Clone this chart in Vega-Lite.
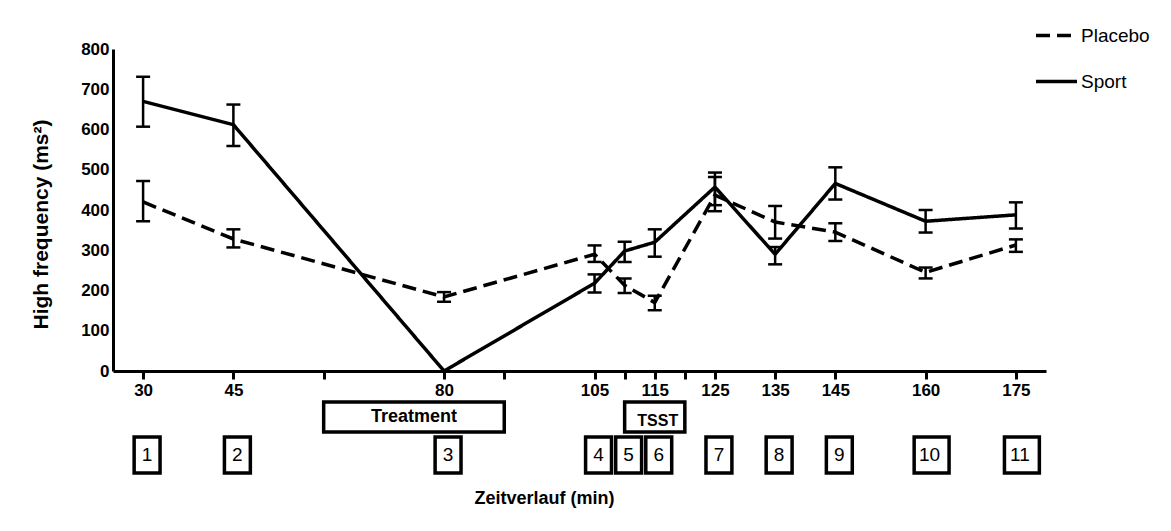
{
  "$schema": "https://vega.github.io/schema/vega-lite/v6.json",
  "background": "white",
  "padding": {"left": 30, "top": 13, "right": 5, "bottom": 5},
  "spacing": 0,
  "config": {
    "view": {"stroke": null},
    "font": "Liberation Sans",
    "axis": {"grid": false, "domainColor": "black", "tickColor": "black", "labelColor": "black", "titleColor": "black"}
  },
  "datasets": {
    "hrv": [
      {"group": "Placebo", "t": 30, "mean": 420, "lo": 372, "hi": 472},
      {"group": "Placebo", "t": 45, "mean": 328, "lo": 307, "hi": 352},
      {"group": "Placebo", "t": 80, "mean": 184, "lo": 172, "hi": 196},
      {"group": "Placebo", "t": 105, "mean": 290, "lo": 271, "hi": 312},
      {"group": "Placebo", "t": 110, "mean": 213, "lo": 194, "hi": 230},
      {"group": "Placebo", "t": 115, "mean": 170, "lo": 151, "hi": 187},
      {"group": "Placebo", "t": 125, "mean": 437, "lo": 397, "hi": 482},
      {"group": "Placebo", "t": 135, "mean": 370, "lo": 329, "hi": 410},
      {"group": "Placebo", "t": 145, "mean": 345, "lo": 323, "hi": 367},
      {"group": "Placebo", "t": 160, "mean": 245, "lo": 230, "hi": 257},
      {"group": "Placebo", "t": 175, "mean": 313, "lo": 296, "hi": 327},
      {"group": "Sport", "t": 30, "mean": 670, "lo": 607, "hi": 731},
      {"group": "Sport", "t": 45, "mean": 612, "lo": 559, "hi": 662},
      {"group": "Sport", "t": 80, "mean": 0, "lo": null, "hi": null},
      {"group": "Sport", "t": 105, "mean": 218, "lo": 195, "hi": 240},
      {"group": "Sport", "t": 110, "mean": 298, "lo": 271, "hi": 321},
      {"group": "Sport", "t": 115, "mean": 320, "lo": 284, "hi": 352},
      {"group": "Sport", "t": 125, "mean": 457, "lo": 412, "hi": 493},
      {"group": "Sport", "t": 135, "mean": 290, "lo": 265, "hi": 308},
      {"group": "Sport", "t": 145, "mean": 466, "lo": 426, "hi": 506},
      {"group": "Sport", "t": 160, "mean": 372, "lo": 344, "hi": 400},
      {"group": "Sport", "t": 175, "mean": 388, "lo": 354, "hi": 419}
    ],
    "phases": [
      {"phase": "Treatment", "kind": "Phase", "start": 60, "end": 90, "mid": 75},
      {"phase": "TSST", "kind": "Phase", "start": 110, "end": 120, "mid": 115}
    ],
    "samples": [
      {"n": 1, "t": 30, "kind": "Probe"},
      {"n": 2, "t": 45, "kind": "Probe"},
      {"n": 3, "t": 80, "kind": "Probe"},
      {"n": 4, "t": 105, "kind": "Probe"},
      {"n": 5, "t": 110, "kind": "Probe"},
      {"n": 6, "t": 115, "kind": "Probe"},
      {"n": 7, "t": 125, "kind": "Probe"},
      {"n": 8, "t": 135, "kind": "Probe"},
      {"n": 9, "t": 145, "kind": "Probe"},
      {"n": 10, "t": 160, "kind": "Probe"},
      {"n": 11, "t": 175, "kind": "Probe"}
    ]
  },
  "vconcat": [
    {
      "width": 933,
      "height": 322,
      "data": {"name": "hrv"},
      "encoding": {
        "x": {
          "field": "t", "type": "quantitative",
          "scale": {"domain": [25, 180], "nice": false, "zero": false},
          "axis": {
            "title": null,
            "values": [30, 45, 60, 80, 90, 105, 110, 115, 120, 125, 135, 145, 160, 175],
            "labelExpr": "indexof([60, 90, 110, 120], datum.value) >= 0 ? '' : datum.label",
            "domainWidth": 3, "tickWidth": 3, "tickSize": 8,
            "labelFontSize": 17, "labelFontWeight": "bold", "labelPadding": 3,
            "labelFlush": false, "labelOverlap": false
          }
        }
      },
      "layer": [
        {
          "mark": {"type": "line", "color": "black", "strokeWidth": 3.5},
          "encoding": {
            "y": {
              "field": "mean", "type": "quantitative",
              "scale": {"domain": [0, 800], "nice": false},
              "axis": {
                "title": "High frequency (ms²)",
                "values": [0, 100, 200, 300, 400, 500, 600, 700, 800],
                "ticks": false, "domainWidth": 3,
                "labelFontSize": 17, "labelFontWeight": "bold", "labelPadding": 4,
                "labelFlush": false,
                "titleFontSize": 21, "titleFontWeight": "bold", "titlePadding": 29,
                "titleY": 175
              }
            },
            "strokeDash": {
              "field": "group", "type": "nominal",
              "scale": {"domain": ["Placebo", "Sport"], "range": [[14, 7], [1, 0]]},
              "legend": {
                "title": null, "orient": "none", "legendX": 921, "legendY": -36,
                "symbolType": "stroke", "symbolSize": 1681, "symbolStrokeWidth": 3.5,
                "symbolStrokeColor": "black", "labelFontSize": 19, "labelColor": "black",
                "labelOffset": 2, "rowPadding": 13
              }
            },
            "detail": {"field": "group"}
          }
        },
        {
          "mark": {"type": "rule", "color": "black", "strokeWidth": 2.5},
          "encoding": {
            "y": {"field": "lo", "type": "quantitative"},
            "y2": {"field": "hi"}
          }
        },
        {
          "mark": {"type": "tick", "orient": "horizontal", "color": "black", "size": 14, "thickness": 2.5, "opacity": 1},
          "encoding": {"y": {"field": "lo", "type": "quantitative"}}
        },
        {
          "mark": {"type": "tick", "orient": "horizontal", "color": "black", "size": 14, "thickness": 2.5, "opacity": 1},
          "encoding": {"y": {"field": "hi", "type": "quantitative"}}
        }
      ]
    },
    {
      "width": 933,
      "height": 76,
      "layer": [
        {
          "data": {"name": "phases"},
          "mark": {"type": "bar", "height": 30, "fill": "white", "stroke": "black", "strokeWidth": 3.5},
          "encoding": {
            "x": {
              "field": "start", "type": "quantitative",
              "scale": {"domain": [25, 180], "nice": false, "zero": false},
              "axis": {
                "domain": false, "ticks": false, "labels": false, "grid": false,
                "title": "Zeitverlauf (min)", "titleFontSize": 18, "titleFontWeight": "bold",
                "titlePadding": 15, "titleX": 431, "titleAlign": "center"
              }
            },
            "x2": {"field": "end"},
            "y": {
              "field": "kind", "type": "nominal",
              "scale": {"domain": ["Phase", "Probe"], "paddingInner": 0, "paddingOuter": 0},
              "axis": null
            }
          }
        },
        {
          "data": {"name": "phases"},
          "transform": [{"filter": "datum.phase === 'Treatment'"}],
          "mark": {"type": "text", "fontSize": 18, "fontWeight": "bold", "color": "black"},
          "encoding": {
            "x": {"field": "mid", "type": "quantitative"},
            "y": {"field": "kind", "type": "nominal"},
            "text": {"field": "phase"}
          }
        },
        {
          "data": {"name": "phases"},
          "transform": [{"filter": "datum.phase === 'TSST'"}],
          "mark": {"type": "text", "fontSize": 16, "fontWeight": "bold", "color": "black", "dy": 4, "dx": 3},
          "encoding": {
            "x": {"field": "mid", "type": "quantitative"},
            "y": {"field": "kind", "type": "nominal"},
            "text": {"field": "phase"}
          }
        },
        {
          "data": {"name": "samples"},
          "transform": [{"filter": "datum.n < 10"}],
          "mark": {"type": "point", "shape": "M-0.72,-1H0.72V1H-0.72Z", "size": 1296, "filled": false, "fill": "white", "stroke": "black", "strokeWidth": 3.5, "opacity": 1, "xOffset": 4},
          "encoding": {
            "x": {"field": "t", "type": "quantitative"},
            "y": {"field": "kind", "type": "nominal"}
          }
        },
        {
          "data": {"name": "samples"},
          "transform": [{"filter": "datum.n >= 10"}],
          "mark": {"type": "point", "shape": "M-0.97,-1H0.97V1H-0.97Z", "size": 1296, "filled": false, "fill": "white", "stroke": "black", "strokeWidth": 3.5, "opacity": 1, "xOffset": 6},
          "encoding": {
            "x": {"field": "t", "type": "quantitative"},
            "y": {"field": "kind", "type": "nominal"}
          }
        },
        {
          "data": {"name": "samples"},
          "mark": {"type": "text", "fontSize": 19, "color": "black", "xOffset": 4},
          "encoding": {
            "x": {"field": "t", "type": "quantitative"},
            "y": {"field": "kind", "type": "nominal"},
            "text": {"field": "n"}
          }
        }
      ]
    }
  ]
}
